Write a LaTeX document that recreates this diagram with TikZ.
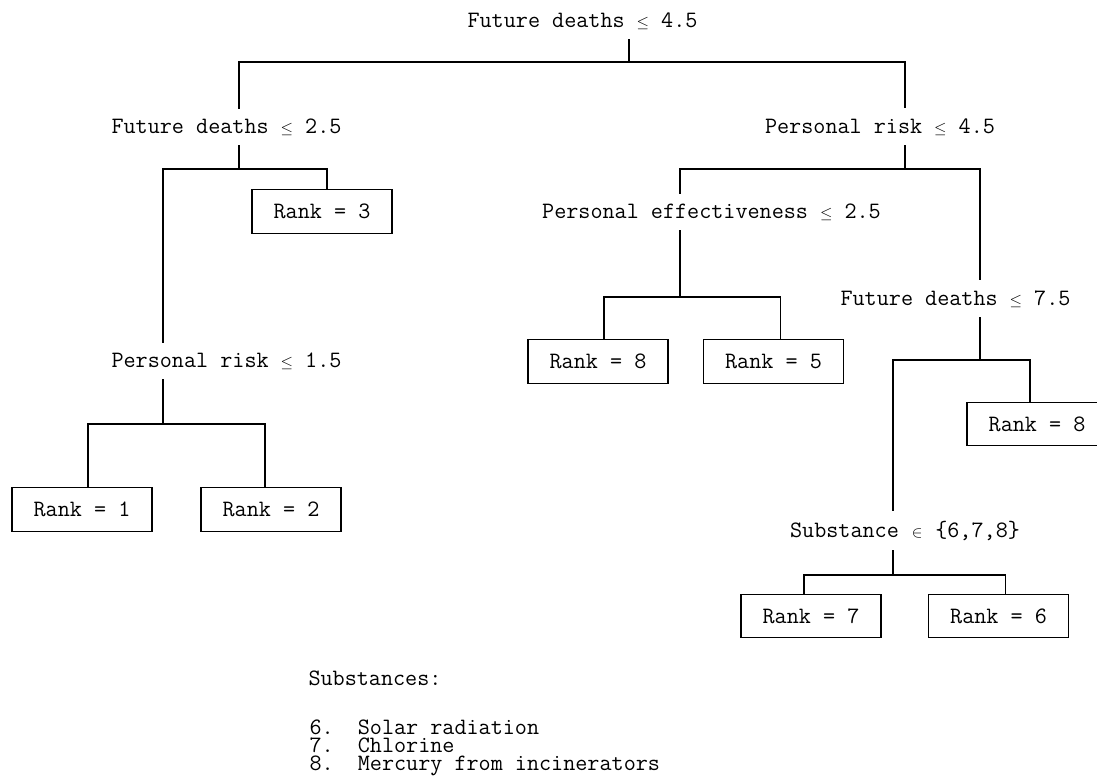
\documentclass[tikz,border=0pt]{standalone}
\usepackage{fontspec}
\usepackage{tikz}
\newcommand\leqsym{\makebox[0.525em]{$\scriptstyle\leq$}}
\newcommand\elemsym{\makebox[0.525em]{$\scriptstyle\in$}}

\begin{document}
\begin{tikzpicture}[x=0.75pt,y=-0.75pt,line width=0.8pt,
  font=\fontsize{17.6}{20}\selectfont\ttfamily,
  cond/.style={inner xsep=0pt,inner ysep=7pt,anchor=base},
  leaf/.style={draw,minimum width=105pt,minimum height=32.4pt,inner sep=0pt},
  legend/.style={inner sep=0pt,anchor=base west,align=left}]
\useasboundingbox (0,0) rectangle (1097,776);
% split conditions
\node[cond] (root) at (582.5,27) {Future deaths \leqsym{} 4.5};
\node[cond] (fd2) at (226.5,133) {Future deaths \leqsym{} 2.5};
\node[cond] (pr4) at (880,133) {Personal risk \leqsym{} 4.5};
\node[cond] (pe) at (711.5,218) {Personal effectiveness \leqsym{} 2.5};
\node[cond] (fd7) at (955.5,305) {Future deaths \leqsym{} 7.5};
\node[cond] (pr1) at (226.5,367) {Personal risk \leqsym{} 1.5};
\node[cond] (sub) at (905,537) {Substance \elemsym{} \{6,7,8\}};
% leaves
\node[leaf] (r3) at (322,211.5) {Rank = 3};
\node[leaf] (r1) at (82,509.5) {Rank = 1};
\node[leaf] (r2) at (271,509.5) {Rank = 2};
\node[leaf] (r8a) at (598,361.5) {Rank = 8};
\node[leaf] (r5) at (773.5,361.5) {Rank = 5};
\node[leaf] (r8b) at (1037,424) {Rank = 8};
\node[leaf] (r7) at (811,616) {Rank = 7};
\node[leaf] (r6) at (998.5,616) {Rank = 6};
% branch points
\coordinate (rootj) at (629,62);
\coordinate (fd2j) at (239,169);
\coordinate (pr1j) at (163,424);
\coordinate (pr4j) at (905,169);
\coordinate (pej) at (680,297);
\coordinate (fd7j) at (980,360);
\coordinate (subj) at (893,575);
% branches
\draw (root.south -| rootj) -- (rootj);
\draw (fd2.north -| fd2j) -- (fd2j |- rootj) -- (pr4j |- rootj) -- (pr4.north -| pr4j);
\draw (fd2.south -| fd2j) -- (fd2j);
\draw (pr1.north -| pr1j) |- (fd2j) -| ([xshift=3.75pt]r3.north);
\draw (pr1.south -| pr1j) -- (pr1j);
\draw ([xshift=4.5pt]r1.north) |- (pr1j) -| ([xshift=-4.5pt]r2.north);
\draw (pr4.south -| pr4j) -- (pr4j);
\draw (pe.north -| pej) |- (pr4j) -| (fd7.north -| fd7j);
\draw (pe.south -| pej) -- (pej);
\draw ([xshift=4.5pt]r8a.north) |- (pej) -| ([xshift=4.9pt]r5.north);
\draw (fd7.south -| fd7j) -- (fd7j);
\draw (sub.north -| subj) |- (fd7j) -| ([xshift=-5.25pt]r8b.north);
\draw (sub.south -| subj) -- (subj);
\draw ([xshift=-5.25pt]r7.north) |- (subj) -| ([xshift=4.9pt]r6.north);
% legend
\node[legend] (subs) at (308,685) {Substances:};
\node[legend,font=\fontsize{17.6}{13.5}\selectfont\ttfamily] (slist) at (309,770)
  {6.~~Solar radiation\\7.~~Chlorine\\8.~~Mercury from incinerators};
\end{tikzpicture}
\end{document}
